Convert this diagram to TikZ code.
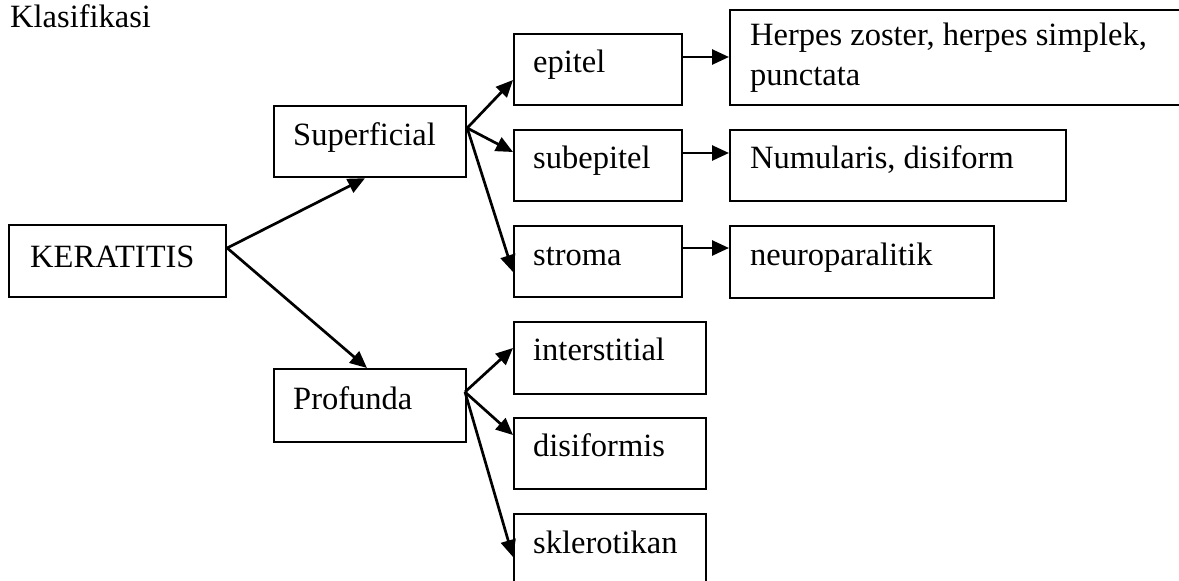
\documentclass[tikz,border=0pt]{standalone}
\usepackage{fontspec}
\setmainfont{Liberation Serif}
\usetikzlibrary{arrows.meta,calc}
\begin{document}
\begin{tikzpicture}[x=1pt,y=-1pt,
 box/.style={draw,line width=2.2pt,anchor=north west,inner sep=0pt},
 lbl/.style={anchor=base west,inner sep=0pt,font=\fontsize{32.5}{40}\selectfont},
 arr/.style={line width=2.7pt,-{Triangle[length=17pt,width=15pt]}}]
\useasboundingbox (0,0) rectangle (1179,581);
\fill[white] (0,0) rectangle (1179,581);

\node[lbl] (title) at (10,27) {Klasifikasi};

\node[box,minimum width=217,minimum height=72] (ker) at (8,224) {};
\node[box,minimum width=192,minimum height=71] (sup) at (273,105) {};
\node[box,minimum width=192,minimum height=73] (prof) at (273,368) {};
\node[box,minimum width=168,minimum height=71] (epi) at (513,33) {};
\node[box,minimum width=168,minimum height=71] (sub) at (513,129) {};
\node[box,minimum width=168,minimum height=71] (str) at (513,225) {};
\node[box,minimum width=460,minimum height=95] (herp) at (729,9) {};
\node[box,minimum width=336,minimum height=71] (num) at (729,129) {};
\node[box,minimum width=264,minimum height=72] (neu) at (729,225) {};
\node[box,minimum width=192,minimum height=72] (int) at (513,321) {};
\node[box,minimum width=192,minimum height=71] (dis) at (513,417) {};
\node[box,minimum width=192,minimum height=90] (skl) at (513,513) {};

\node[lbl] (tker) at ($(ker.north west)+(22,43)$) {KERATITIS};
\node[lbl] (tsup) at ($(sup.north west)+(20,40)$) {Superficial};
\node[lbl] (tprof) at ($(prof.north west)+(20,41)$) {Profunda};
\node[lbl] (tepi) at ($(epi.north west)+(20,39)$) {epitel};
\node[lbl] (tsub) at ($(sub.north west)+(20,39)$) {subepitel};
\node[lbl] (tstr) at ($(str.north west)+(20,40)$) {stroma};
\node[lbl] (therp) at ($(herp.north west)+(21,36)$) {Herpes zoster, herpes simplek,};
\node[lbl] (therp2) at ($(herp.north west)+(21,76)$) {punctata};
\node[lbl] (tnum) at ($(num.north west)+(21,39)$) {Numularis, disiform};
\node[lbl] (tneu) at ($(neu.north west)+(21,40)$) {neuroparalitik};
\node[lbl] (tint) at ($(int.north west)+(20,39)$) {interstitial};
\node[lbl] (tdis) at ($(dis.north west)+(20,39)$) {disiformis};
\node[lbl] (tskl) at ($(skl.north west)+(20,40)$) {sklerotikan};

\coordinate (kerO) at ($(ker.north east)+(0,24)$);
\draw[arr] (kerO) -- ($(sup.south west)+(92,0)$);
\draw[arr] (kerO) -- ($(prof.north west)+(94,0)$);

\coordinate (supO) at ($(sup.north east)+(0,23)$);
\draw[arr] (supO) -- ($(epi.north west)+(0,47)$);
\draw[arr] (supO) -- ($(sub.north west)+(0,23)$);
\draw[arr] (supO) -- ($(str.north west)+(0,47)$);

\coordinate (profO) at ($(prof.north west)+(192,24)$);
\draw[arr] (profO) -- ($(int.north west)+(0,27)$);
\draw[arr] (profO) -- ($(dis.north west)+(0,18)$);
\draw[arr] (profO) -- ($(skl.north west)+(0,44)$);

\draw[arr] ($(epi.north east)+(0,24)$) -- ($(herp.north west)+(0,48)$);
\draw[arr] ($(sub.north east)+(0,24)$) -- ($(num.north west)+(0,24)$);
\draw[arr] ($(str.north east)+(0,23)$) -- ($(neu.north west)+(0,23)$);
\end{tikzpicture}
\end{document}
